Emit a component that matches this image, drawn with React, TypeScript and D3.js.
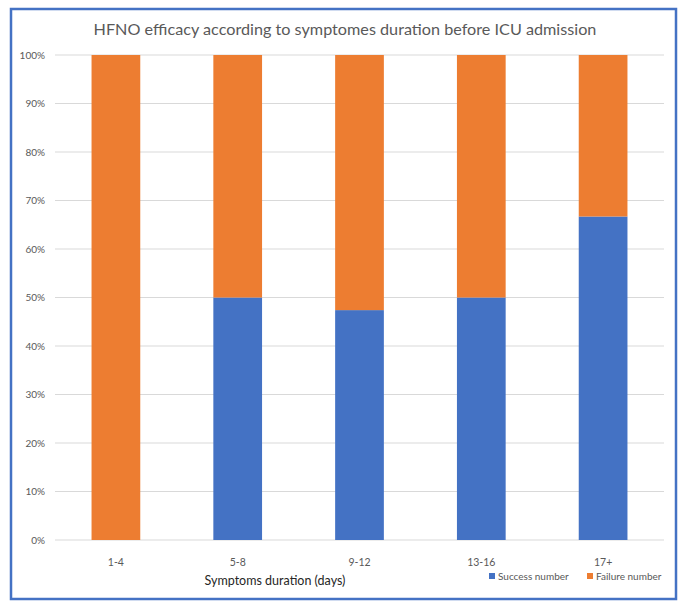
import React from "react";
import * as d3 from "d3";

const categories = ["1-4", "5-8", "9-12", "13-16", "17+"];
const successPct = [0, 50, 47.4, 50, 66.7];
const failurePct = [100, 50, 52.6, 50, 33.3];
const yTicks = [0, 10, 20, 30, 40, 50, 60, 70, 80, 90, 100];
const seriesNames = ["Success number", "Failure number"];
const colors = ["#4472C4", "#ED7D31"];

const W = 685, H = 612;
const plot = { left: 55, right: 664, top: 55, bottom: 540 };
const FONT = "Lato, 'Open Sans', sans-serif";

export default function App() {
  const x = d3.scaleBand<string>().domain(categories).range([plot.left, plot.right]).paddingInner(0.6).paddingOuter(0.3);
  const y = d3.scaleLinear().domain([0, 100]).range([plot.bottom, plot.top]);
  const stackData = categories.map((c, i) => ({ cat: c, s: successPct[i], f: failurePct[i] }));
  const stack = d3.stack<any>().keys(["s", "f"])(stackData);

  return (
    <svg width={W} height={H} style={{ position: "absolute", left: 0, top: 0, fontFamily: FONT }}>
      <rect x={0} y={0} width={W} height={H} fill="#fff" />
      <rect x={11} y={9} width={665} height={590} fill="#fff" stroke="#4472C4" strokeWidth={2.5} />
      <text x={345} y={35} textAnchor="middle" fontSize={16.2} fill="#595959">
        HFNO efficacy according to symptomes duration before ICU admission
      </text>
      {yTicks.map((t) => (
        <g key={t}>
          <line x1={plot.left} x2={plot.right} y1={y(t)} y2={y(t)} stroke="#d9d9d9" strokeWidth={1} />
          <text x={45} y={y(t) + 3.5} textAnchor="end" fontSize={10} fill="#595959">{t}%</text>
        </g>
      ))}
      {stack.map((layer, li) => (
        <g key={li} fill={colors[li]}>
          {layer.map((d: any, i: number) => (
            <rect key={i} x={x(categories[i])} width={x.bandwidth()} y={y(d[1])} height={y(d[0]) - y(d[1])} />
          ))}
        </g>
      ))}
      {categories.map((c) => (
        <text key={c} x={(x(c) as number) + x.bandwidth() / 2} y={566} textAnchor="middle" fontSize={10.5} fill="#595959">{c}</text>
      ))}
      <text x={275} y={585} textAnchor="middle" fontSize={12.5} fill="#262626">Symptoms duration (days)</text>
      <g fontSize={10} fill="#595959">
        <rect x={489} y={573} width={6} height={6} fill={colors[0]} />
        <text x={498} y={580}>{seriesNames[0]}</text>
        <rect x={587} y={573} width={6} height={6} fill={colors[1]} />
        <text x={596} y={580}>{seriesNames[1]}</text>
      </g>
    </svg>
  );
}
